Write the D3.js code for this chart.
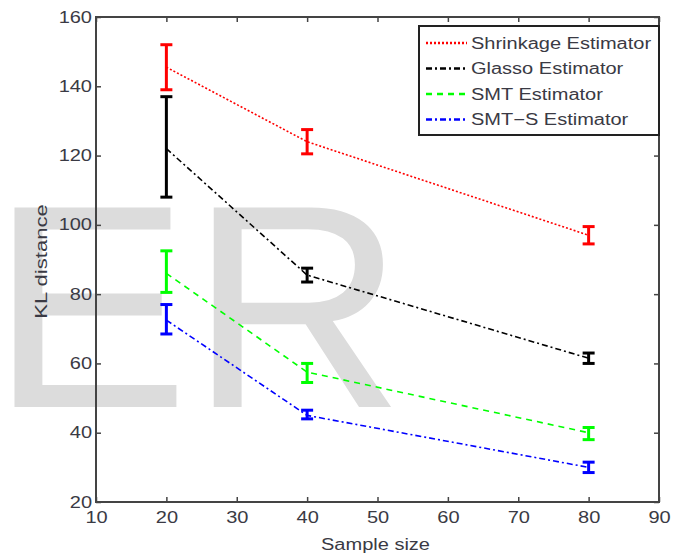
<!DOCTYPE html>
<html>
<head>
<meta charset="utf-8">
<script src="https://d3js.org/d3.v7.min.js"></script>
<style>
    body { margin: 0; background: #fff; }
    text { font-family: "Liberation Sans", Arial, sans-serif; }
</style>
</head>
<body>
<div id="chart"></div>
<script>
    // data
    var sampleSizes = [20, 40, 80];
    var seriesNames = ["Shrinkage Estimator", "Glasso Estimator", "SMT Estimator", "SMT\u2212S Estimator"];
    var shrinkMean = [145.5, 124, 97], shrinkLo = [139, 120.5, 94.5], shrinkHi = [152, 127.5, 99.5];
    var glassoMean = [122, 85.5, 61.5], glassoLo = [108, 83.5, 60], glassoHi = [137, 87.5, 63];
    var smtMean = [86, 57.5, 40], smtLo = [80.5, 54.5, 38], smtHi = [92.5, 60, 41.5];
    var smtsMean = [72.5, 45, 30], smtsLo = [68.5, 44, 28.5], smtsHi = [77, 46.5, 31.5];
    var xTicks = [10, 20, 30, 40, 50, 60, 70, 80, 90];
    var yTicks = [20, 40, 60, 80, 100, 120, 140, 160];

    var colors = ["#ff0000", "#000000", "#00ff00", "#0000ff"];
    var dashes = ["2,2", "6,3,2,3", "6,5", "6,3,2,3"];

    var series = [
        { mean: shrinkMean, lo: shrinkLo, hi: shrinkHi },
        { mean: glassoMean, lo: glassoLo, hi: glassoHi },
        { mean: smtMean, lo: smtLo, hi: smtHi },
        { mean: smtsMean, lo: smtsLo, hi: smtsHi }
    ];
    series.forEach(function (s, i) {
        s.name = seriesNames[i];
        s.color = colors[i];
        s.dash = dashes[i];
        s.points = sampleSizes.map(function (n, j) {
            return { x: n, m: s.mean[j], lo: s.lo[j], hi: s.hi[j] };
        });
    });

    var W = 683, H = 554;
    var margin = { top: 17, right: 24, bottom: 52, left: 96 },
        width = W - margin.left - margin.right,
        height = H - margin.top - margin.bottom;

    var textColor = "#3a3a44";

    // the picture's lettering is wider than Arial, stretch it
    function stretch(sel, k) {
        sel.each(function () {
            var n = this.getComputedTextLength();
            d3.select(this).attr("textLength", n * k).attr("lengthAdjust", "spacingAndGlyphs");
        });
    }

    var root = d3.select("#chart").append("svg")
        .attr("width", W).attr("height", H);

    // watermark behind everything
    root.append("text")
        .attr("x", -10).attr("y", 407)
        .style("font-size", "290px")
        .style("fill", "#dcdcdc")
        .text("ER")
        .call(stretch, 1.03);

    var svg = root.append("g")
        .attr("transform", "translate(" + margin.left + "," + margin.top + ")");

    var x = d3.scaleLinear().domain([10, 90]).range([0, width]);
    var y = d3.scaleLinear().domain([20, 160]).range([height, 0]);

    // axes (MATLAB style, ticks inside, box all round)
    var axisColor = "#444";
    function styleAxis(g, hideText) {
        g.select(".domain").remove();
        g.selectAll(".tick line").attr("stroke", axisColor).attr("stroke-width", 1.5);
        if (hideText) {
            g.selectAll(".tick text").remove();
        } else {
            g.selectAll(".tick text").style("font-size", "16px").style("fill", textColor)
                .call(stretch, 1.25);
        }
    }
    svg.append("g").attr("transform", "translate(0," + height + ")")
        .call(d3.axisBottom(x).tickValues(xTicks).tickSize(-5).tickPadding(10))
        .call(styleAxis, false);
    svg.append("g")
        .call(d3.axisTop(x).tickValues(xTicks).tickSize(-5))
        .call(styleAxis, true);
    svg.append("g")
        .call(d3.axisLeft(y).tickValues(yTicks).tickSize(-5).tickPadding(4))
        .call(styleAxis, false);
    svg.append("g").attr("transform", "translate(" + width + ",0)")
        .call(d3.axisRight(y).tickValues(yTicks).tickSize(-5))
        .call(styleAxis, true);

    svg.append("rect")
        .attr("width", width).attr("height", height)
        .attr("fill", "none").attr("stroke", axisColor).attr("stroke-width", 2);

    // lines
    var line = d3.line().x(function (d) { return x(d.x); }).y(function (d) { return y(d.m); });
    svg.selectAll(".series-line").data(series).enter().append("path")
        .attr("class", "series-line")
        .attr("d", function (d) { return line(d.points); })
        .attr("fill", "none")
        .attr("stroke", function (d) { return d.color; })
        .attr("stroke-width", 1.6)
        .attr("stroke-dasharray", function (d) { return d.dash; });

    // error bars
    var cap = 6;
    var groups = svg.selectAll(".err").data(series).enter().append("g")
        .attr("class", "err")
        .attr("stroke", function (d) { return d.color; })
        .attr("stroke-width", 3);
    groups.each(function (s) {
        var g = d3.select(this);
        s.points.forEach(function (p) {
            g.append("line").attr("x1", x(p.x)).attr("x2", x(p.x)).attr("y1", y(p.lo)).attr("y2", y(p.hi));
            g.append("line").attr("x1", x(p.x) - cap).attr("x2", x(p.x) + cap).attr("y1", y(p.lo)).attr("y2", y(p.lo));
            g.append("line").attr("x1", x(p.x) - cap).attr("x2", x(p.x) + cap).attr("y1", y(p.hi)).attr("y2", y(p.hi));
        });
    });

    // legend
    var lg = svg.append("g").attr("transform", "translate(" + (width - 240) + ",9)");
    lg.append("rect").attr("width", 240).attr("height", 109)
        .attr("fill", "#fff").attr("stroke", "#222").attr("stroke-width", 2);
    var items = lg.selectAll(".item").data(series).enter().append("g")
        .attr("transform", function (d, i) { return "translate(0," + (17 + i * 25.5) + ")"; });
    items.append("line").attr("x1", 7).attr("x2", 48)
        .attr("stroke", function (d) { return d.color; })
        .attr("stroke-width", 2.5)
        .attr("stroke-dasharray", function (d) { return d.dash; });
    items.append("text").attr("x", 52).attr("dy", "0.36em")
        .style("font-size", "16px").style("fill", textColor)
        .text(function (d) { return d.name; })
        .call(stretch, 1.25);

    // axis titles
    root.append("text")
        .attr("text-anchor", "middle")
        .attr("transform", "translate(47," + (margin.top + height / 2 + 2) + ") rotate(-90)")
        .style("font-size", "16px").style("fill", textColor)
        .text("KL distance")
        .call(stretch, 1.38);
    root.append("text")
        .attr("text-anchor", "middle")
        .attr("x", margin.left + width / 2 - 2).attr("y", 550)
        .style("font-size", "16px").style("fill", textColor)
        .text("Sample size")
        .call(stretch, 1.25);
</script>
</body>
</html>
